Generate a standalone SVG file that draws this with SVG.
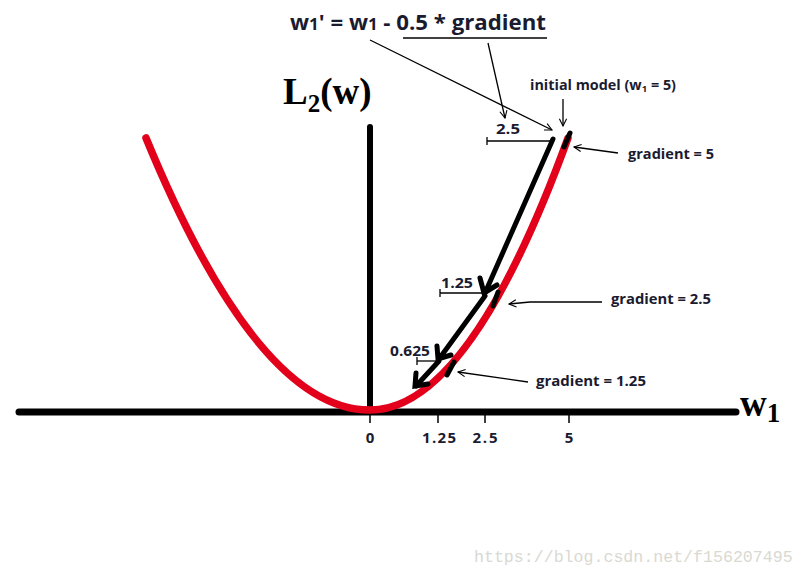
<svg xmlns="http://www.w3.org/2000/svg" width="805" height="578" viewBox="0 0 805 578">
<style>
.lbl{font-family:"Open Sans","Liberation Sans",sans-serif;font-weight:bold;fill:#1b1b30}
.ser{font-family:"Liberation Serif","Times New Roman",serif;font-weight:bold;fill:#000}
.thin{stroke:#000;stroke-width:1.3;fill:none}
.thick{stroke:#000;stroke-width:5;fill:none;stroke-linecap:round}
.red{stroke:#e2001a;stroke-width:7.5;fill:none;stroke-linecap:round}
</style>
<defs>
<marker id="open" viewBox="0 0 10 10" refX="9" refY="5" markerWidth="9" markerHeight="9" markerUnits="userSpaceOnUse" orient="auto">
<path d="M1,1 L9,5 L1,9" fill="none" stroke="#000" stroke-width="1.2"/>
</marker>
</defs>
<rect width="805" height="578" fill="#fff"/>
<g id="axes">
<line x1="19" y1="412" x2="736" y2="412" stroke="#000" stroke-width="7" stroke-linecap="round"/>
<line x1="370" y1="127" x2="370" y2="412" stroke="#000" stroke-width="6" stroke-linecap="round"/>
<g stroke="#000" stroke-width="1.5">
<line x1="370" y1="415" x2="370" y2="423"/>
<line x1="438" y1="415" x2="438" y2="423"/>
<line x1="485" y1="415" x2="485" y2="423"/>
<line x1="569" y1="415" x2="569" y2="423"/>
</g>
<text class="lbl" x="370" y="443" font-size="15" text-anchor="middle">0</text>
<text class="lbl" x="439" y="443" font-size="15" text-anchor="middle" textLength="34">1.25</text>
<text class="lbl" x="485" y="443" font-size="15" text-anchor="middle" textLength="25">2.5</text>
<text class="lbl" x="569" y="443" font-size="15" text-anchor="middle">5</text>
<text class="ser" x="283" y="104" font-size="37">L<tspan font-size="25" dy="8">2</tspan><tspan dy="-8">(w)</tspan></text>
<text class="ser" x="740" y="416" font-size="37">w<tspan font-size="27" dy="6">1</tspan></text>
</g>
<g id="curve">
<path class="red" d="M146,138 Q258,410 370,410 Q469,410 568,138"/>
</g>
<g id="connectors">
<path class="thick" d="M553,139 L485,293"/>
<path class="thick" d="M480,278 L484,293 L497,285"/>
<path class="thick" d="M485,296 L439,359"/>
<path class="thick" d="M437,346 L438,359 L451,355"/>
<path class="thick" d="M439,361 L416,386"/>
<path class="thick" d="M416,373 L415,386 L428,384"/>
<path class="thick" d="M570,133 L564,147"/>
<path class="thick" d="M498,292 L493,306"/>
<path class="thick" d="M454,362 L447,375"/>
<g class="thin">
<line x1="487" y1="141" x2="552" y2="141"/>
<line x1="487" y1="137" x2="487" y2="145"/>
<line x1="440" y1="293" x2="484" y2="293"/>
<line x1="440" y1="289" x2="440" y2="297"/>
<line x1="417" y1="361" x2="437" y2="361"/>
<line x1="417" y1="357" x2="417" y2="365"/>
<line x1="403" y1="38" x2="547" y2="38"/>
<line x1="370" y1="40" x2="552" y2="130" marker-end="url(#open)"/>
<line x1="488" y1="43" x2="505" y2="118" marker-end="url(#open)"/>
<line x1="563" y1="99" x2="563" y2="126" marker-end="url(#open)"/>
<line x1="618" y1="153" x2="574" y2="147" marker-end="url(#open)"/>
<polyline points="602,302 530,302 509,304" marker-end="url(#open)"/>
<line x1="528" y1="382" x2="458" y2="372" marker-end="url(#open)"/>
</g>
</g>
<g id="labels">
<text class="lbl" x="290" y="30" font-size="21" textLength="256" lengthAdjust="spacingAndGlyphs">w<tspan font-size="16">1</tspan>' = w<tspan font-size="16">1</tspan> - 0.5 * gradient</text>
<text class="lbl" x="530" y="90" font-size="13.5" textLength="146" lengthAdjust="spacingAndGlyphs">initial model (w<tspan font-size="9" dy="2">1</tspan><tspan dy="-2"> = 5)</tspan></text>
<text class="lbl" x="496" y="134" font-size="15" textLength="24" lengthAdjust="spacingAndGlyphs">2.5</text>
<text class="lbl" x="441" y="288" font-size="15" textLength="32" lengthAdjust="spacingAndGlyphs">1.25</text>
<text class="lbl" x="390" y="356" font-size="15" textLength="40" lengthAdjust="spacingAndGlyphs">0.625</text>
<text class="lbl" x="628" y="159" font-size="14" textLength="86" lengthAdjust="spacingAndGlyphs">gradient = 5</text>
<text class="lbl" x="611" y="304" font-size="14" textLength="100" lengthAdjust="spacingAndGlyphs">gradient = 2.5</text>
<text class="lbl" x="536" y="386" font-size="14" textLength="110" lengthAdjust="spacingAndGlyphs">gradient = 1.25</text>
<text x="474" y="562" font-family="'Liberation Mono',monospace" font-size="16.6" fill="#d9d9d2">https://blog.csdn.net/f156207495</text>
</g>
</svg>
